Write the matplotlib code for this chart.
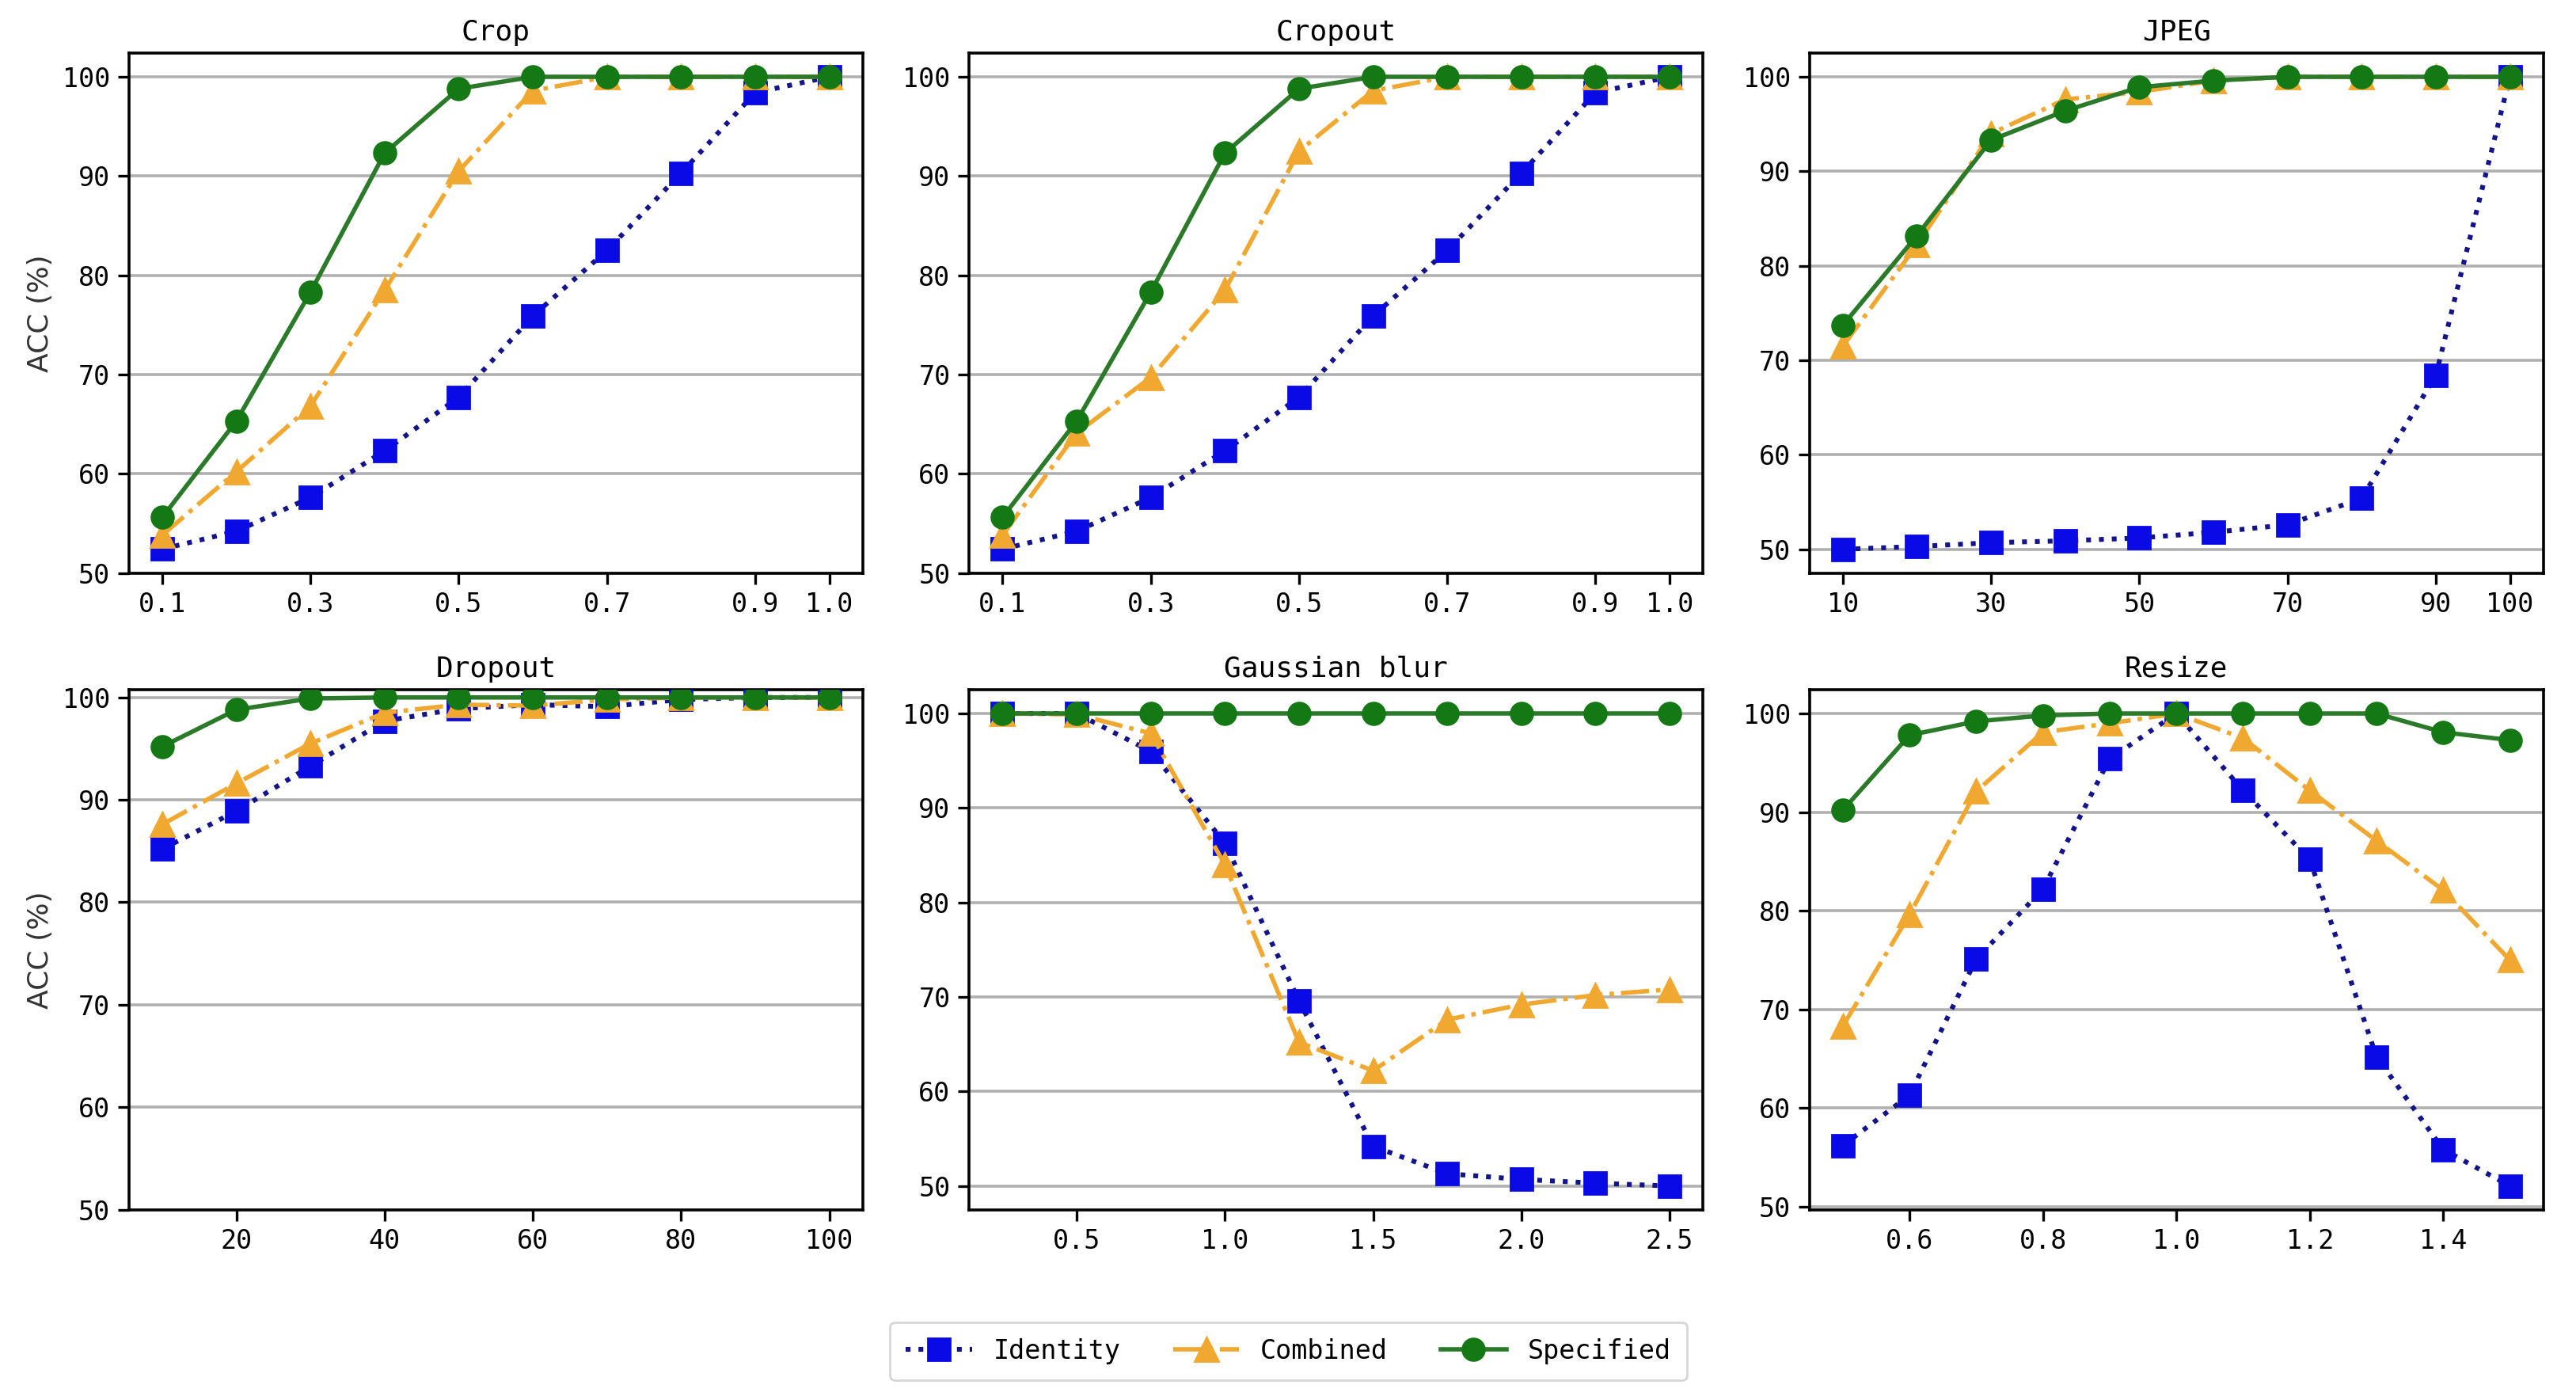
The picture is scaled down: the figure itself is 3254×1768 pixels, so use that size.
import numpy as np
import matplotlib
matplotlib.use("Agg")
import matplotlib.pyplot as plt

plt.rcParams['font.family'] = ['DejaVu Sans Mono']

# ---- data ----
crop_x = [0.1, 0.2, 0.3, 0.4, 0.5, 0.6, 0.7, 0.8, 0.9, 1.0]
crop_identity = [52.4, 54.2, 57.6, 62.3, 67.7, 75.9, 82.5, 90.3, 98.4, 100]
crop_combined = [53.8, 60.2, 66.8, 78.5, 90.5, 98.6, 100, 100, 100, 100]
crop_specified = [55.6, 65.3, 78.3, 92.3, 98.8, 100, 100, 100, 100, 100]

cropout_x = [0.1, 0.2, 0.3, 0.4, 0.5, 0.6, 0.7, 0.8, 0.9, 1.0]
cropout_identity = [52.4, 54.2, 57.6, 62.3, 67.7, 75.9, 82.5, 90.3, 98.4, 100]
cropout_combined = [53.8, 64.1, 69.7, 78.5, 92.5, 98.6, 100, 100, 100, 100]
cropout_specified = [55.6, 65.3, 78.3, 92.3, 98.8, 100, 100, 100, 100, 100]

jpeg_x = [10, 20, 30, 40, 50, 60, 70, 80, 90, 100]
jpeg_identity = [50.0, 50.3, 50.7, 50.9, 51.2, 51.8, 52.6, 55.4, 68.4, 100]
jpeg_combined = [71.5, 82.2, 94.0, 97.6, 98.4, 99.6, 100, 100, 100, 100]
jpeg_specified = [73.7, 83.2, 93.3, 96.4, 98.9, 99.6, 100, 100, 100, 100]

dropout_x = [10, 20, 30, 40, 50, 60, 70, 80, 90, 100]
dropout_identity = [85.2, 88.9, 93.3, 97.7, 98.9, 99.3, 99.1, 99.8, 100, 100]
dropout_combined = [87.6, 91.6, 95.5, 98.5, 99.3, 99.2, 99.8, 100, 100, 100]
dropout_specified = [95.2, 98.8, 99.9, 100, 100, 100, 100, 100, 100, 100]

blur_x = [0.25, 0.5, 0.75, 1.0, 1.25, 1.5, 1.75, 2.0, 2.25, 2.5]
blur_identity = [100, 100, 96.0, 86.3, 69.6, 54.2, 51.3, 50.7, 50.3, 50.0]
blur_combined = [100, 99.9, 97.9, 84.0, 65.2, 62.2, 67.6, 69.2, 70.2, 70.8]
blur_specified = [100, 100, 100, 100, 100, 100, 100, 100, 100, 100]

resize_x = [0.5, 0.6, 0.7, 0.8, 0.9, 1.0, 1.1, 1.2, 1.3, 1.4, 1.5]
resize_identity = [56.2, 61.3, 75.1, 82.2, 95.4, 100, 92.2, 85.2, 65.2, 55.8, 52.1]
resize_combined = [68.3, 79.6, 92.1, 98.1, 99.0, 100, 97.5, 92.2, 87.1, 82.1, 75.0]
resize_specified = [90.2, 97.8, 99.2, 99.8, 100, 100, 100, 100, 100, 98.1, 97.3]

panels = [
    ("Crop", crop_x, crop_identity, crop_combined, crop_specified,
     [0.1, 0.3, 0.5, 0.7, 0.9, 1.0], ["0.1", "0.3", "0.5", "0.7", "0.9", "1.0"], True),
    ("Cropout", cropout_x, cropout_identity, cropout_combined, cropout_specified,
     [0.1, 0.3, 0.5, 0.7, 0.9, 1.0], ["0.1", "0.3", "0.5", "0.7", "0.9", "1.0"], True),
    ("JPEG", jpeg_x, jpeg_identity, jpeg_combined, jpeg_specified,
     [10, 30, 50, 70, 90, 100], ["10", "30", "50", "70", "90", "100"], False),
    ("Dropout", dropout_x, dropout_identity, dropout_combined, dropout_specified,
     [20, 40, 60, 80, 100], ["20", "40", "60", "80", "100"], True),
    ("Gaussian blur", blur_x, blur_identity, blur_combined, blur_specified,
     [0.5, 1.0, 1.5, 2.0, 2.5], ["0.5", "1.0", "1.5", "2.0", "2.5"], False),
    ("Resize", resize_x, resize_identity, resize_combined, resize_specified,
     [0.6, 0.8, 1.0, 1.2, 1.4], ["0.6", "0.8", "1.0", "1.2", "1.4"], False),
]

fig, axes = plt.subplots(2, 3, figsize=(16.275, 8.84), dpi=200)
fig.subplots_adjust(left=0.050, right=0.987, top=0.962, bottom=0.136,
                    wspace=0.145, hspace=0.225)

for i, (title, x, ident, comb, spec, ticks, labels, floor50) in enumerate(panels):
    ax = axes.flat[i]
    ax.plot(x, ident, linestyle=':', color='#14148a', marker='s', markersize=10,
            markerfacecolor='#0a0ae6', markeredgecolor='#0a0ae6', linewidth=2.2,
            label='Identity', zorder=3)
    ax.plot(x, comb, linestyle='-.', color='#f0a830', marker='^', markersize=11,
            linewidth=2, label='Combined', zorder=4)
    ax.plot(x, spec, linestyle='-', color='#2a7a2a', marker='o', markersize=10,
            markerfacecolor='#147814', markeredgecolor='#147814', linewidth=2,
            label='Specified', zorder=5)
    ax.set_title(title, fontsize=13)
    ax.set_xticks(ticks)
    ax.set_xticklabels(labels)
    ax.set_yticks([50, 60, 70, 80, 90, 100])
    if floor50:
        ax.set_ylim(bottom=50)
    ax.grid(axis='y', color='#b0b0b0', linewidth=1.3)
    ax.set_axisbelow(True)
    ax.tick_params(labelsize=12, width=1.2, length=5)
    for s in ax.spines.values():
        s.set_linewidth(1.3)
    if i % 3 == 0:
        ax.set_ylabel('ACC (%)', fontsize=13, family='DejaVu Sans', color='#333333')

handles, leg_labels = axes.flat[0].get_legend_handles_labels()
fig.legend(handles, leg_labels, loc='center', bbox_to_anchor=(0.5, 0.035), ncol=3,
           fontsize=12, frameon=True, fancybox=True, handlelength=2.5,
           columnspacing=2.0, borderpad=0.6)

fig.savefig('out.png', dpi=200)
